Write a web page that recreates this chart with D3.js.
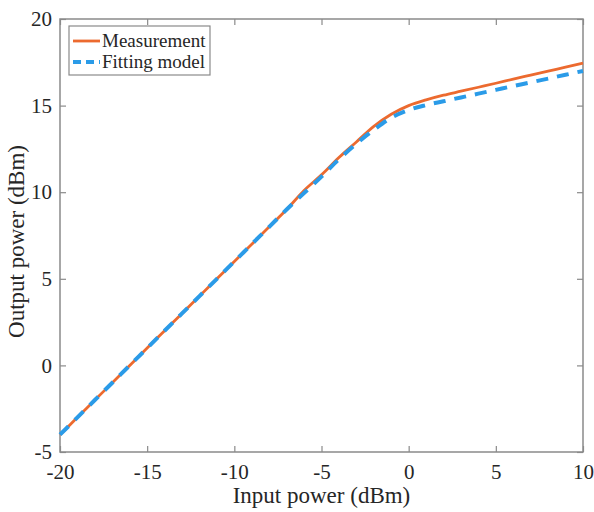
<!DOCTYPE html>
<html><head><meta charset="utf-8">
<script src="https://cdn.jsdelivr.net/npm/d3@7"></script>
<style>body{margin:0;background:#fff}svg{display:block}</style>
</head><body>
<svg id="chart" width="594" height="512"></svg>
<script>
const inputPower = [-20,-19,-18,-17,-16,-15,-14,-13,-12,-11,-10,-9,-8,-7,-6,-5,-4,-3,-2,-1,0,1,2,3,4,5,6,7,8,9,10];
const measurement = [-4.0,-3.0,-2.0,-1.0,0.0,1.0,2.0,3.0,4.0,5.0,6.0,7.0,8.0,9.0,10.1,11.0,12.0,12.9,13.8,14.5,15.0,15.33,15.6,15.83,16.06,16.29,16.53,16.76,16.99,17.22,17.45];
const fittingModel = [-4.0,-3.0,-2.0,-1.0,0.0,1.0,2.0,3.0,4.0,5.0,6.0,7.0,8.0,9.0,9.95,10.9,11.9,12.8,13.6,14.3,14.75,15.03,15.25,15.47,15.69,15.91,16.13,16.34,16.56,16.78,17.0];
const xTicks = [-20,-15,-10,-5,0,5,10];
const yTicks = [-5,0,5,10,15,20];
const seriesNames = ["Measurement","Fitting model"];

const svg = d3.select("#chart");
const L=60, R=583, T=19, B=452;
const x = d3.scaleLinear().domain([-20,10]).range([L,R]);
const y = d3.scaleLinear().domain([-5,20]).range([B,T]);
const axisColor="#8a8a8a", textColor="#262626", font="'Liberation Serif','Times New Roman',serif";

svg.append("rect").attr("x",L).attr("y",T).attr("width",R-L).attr("height",B-T)
  .attr("fill","none").attr("stroke",axisColor).attr("stroke-width",1.5);

const fmt = d=>String(d);
const xb = svg.append("g").attr("transform",`translate(0,${B})`)
  .call(d3.axisBottom(x).tickValues(xTicks).tickSizeInner(-6).tickSizeOuter(0).tickPadding(12).tickFormat(fmt));
const xt = svg.append("g").attr("transform",`translate(0,${T})`)
  .call(d3.axisTop(x).tickValues(xTicks).tickSizeInner(-6).tickSizeOuter(0).tickFormat(""));
const yl = svg.append("g").attr("transform",`translate(${L},0)`)
  .call(d3.axisLeft(y).tickValues(yTicks).tickSizeInner(-6).tickSizeOuter(0).tickPadding(8).tickFormat(fmt));
const yr = svg.append("g").attr("transform",`translate(${R},0)`)
  .call(d3.axisRight(y).tickValues(yTicks).tickSizeInner(-6).tickSizeOuter(0).tickFormat(""));
[xb,xt,yl,yr].forEach(g=>{
  g.select(".domain").remove();
  g.selectAll(".tick line").attr("stroke",axisColor).attr("stroke-width",1.2);
  g.selectAll(".tick text").attr("fill",textColor).style("font-family",font).style("font-size","21px");
});

const line = (vals)=>d3.line().x((d,i)=>x(inputPower[i])).y(d=>y(d)).curve(d3.curveMonotoneX)(vals);
const orange="#ec6a2f", blue="#2a9be8";
svg.append("path").attr("d",line(measurement)).attr("fill","none").attr("stroke",orange).attr("stroke-width",2.8);
svg.append("path").attr("d",line(fittingModel)).attr("fill","none").attr("stroke",blue).attr("stroke-width",4).attr("stroke-dasharray","12,9");

svg.append("text").attr("x",(L+R)/2).attr("y",503).attr("text-anchor","middle")
  .attr("fill",textColor).style("font-family",font).style("font-size","23px").text("Input power (dBm)");
svg.append("text").attr("transform",`translate(24,${(T+B)/2+6}) rotate(-90)`).attr("text-anchor","middle")
  .attr("fill",textColor).style("font-family",font).style("font-size","23px").text("Output power (dBm)");

const lg = svg.append("g");
lg.append("rect").attr("x",69).attr("y",26).attr("width",141).attr("height",49)
  .attr("fill","#fff").attr("stroke",axisColor).attr("stroke-width",1.2);
const items=[{n:seriesNames[0],c:orange,w:2.8,da:null},{n:seriesNames[1],c:blue,w:4,da:"8,5"}];
items.forEach((it,i)=>{
  const yy=41+i*21;
  lg.append("line").attr("x1",73).attr("x2",100).attr("y1",yy).attr("y2",yy)
    .attr("stroke",it.c).attr("stroke-width",it.w).attr("stroke-dasharray",it.da);
  lg.append("text").attr("x",102).attr("y",yy+6).attr("fill",textColor)
    .style("font-family",font).style("font-size","19px").text(it.n);
});
</script>
</body></html>
